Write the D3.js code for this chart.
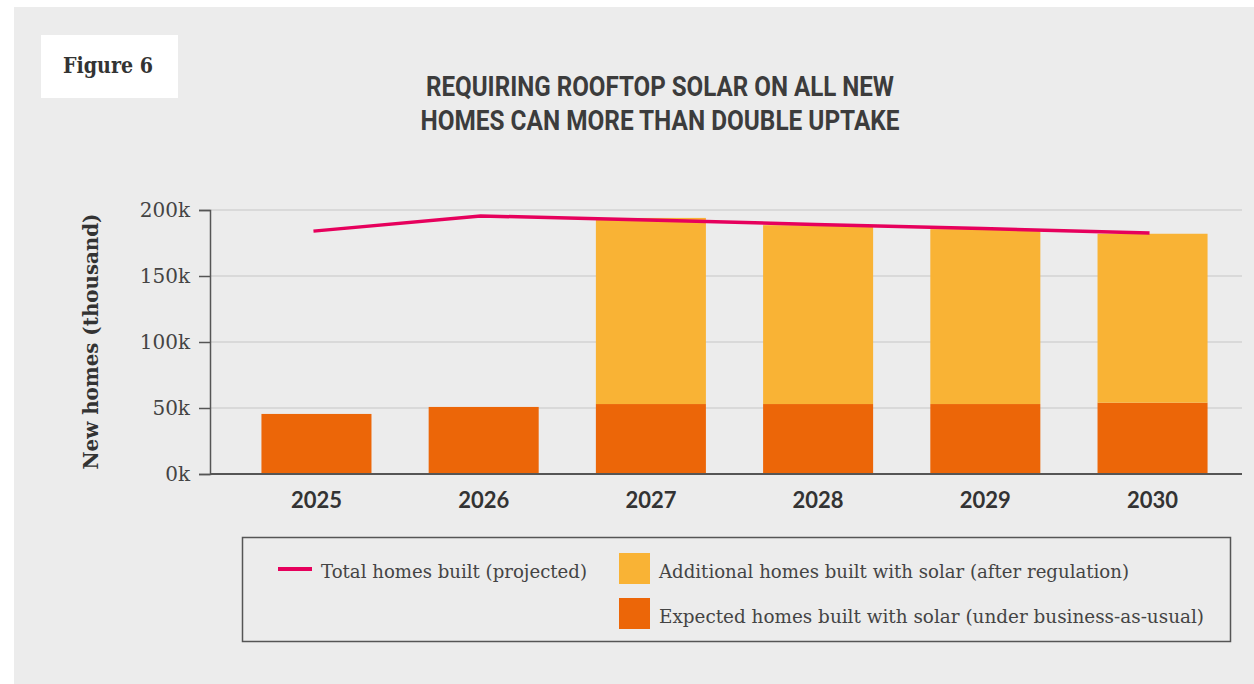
<!DOCTYPE html>
<html>
<head>
<meta charset="utf-8">
<script src="https://cdn.jsdelivr.net/npm/d3@7"></script>
<style>
    body { margin: 0; background: #ffffff; }
    svg { display: block; }
</style>
</head>
<body>
<svg width="1254" height="684"></svg>
<script>
// chart values (thousands of homes)
var years = ["2025", "2026", "2027", "2028", "2029", "2030"];
var expectedSolar = [45.5, 50.8, 53, 53, 53, 54];
var additionalSolar = [0, 0, 141, 135.5, 132.5, 128];
var totalHomes = [184, 195.5, 192.5, 189, 186, 182.5];
var yTicks = [0, 50, 100, 150, 200];

var titleLines = ["REQUIRING ROOFTOP SOLAR ON ALL NEW", "HOMES CAN MORE THAN DOUBLE UPTAKE"];
var legendLabels = {
    total: "Total homes built (projected)",
    additional: "Additional homes built with solar (after regulation)",
    expected: "Expected homes built with solar (under business-as-usual)"
};

var colOrange = "#ec6608";
var colYellow = "#f9b335";
var colPink = "#e6005c";
var serif = "'DejaVu Serif', serif";

var svg = d3.select("svg");

// background panel
svg.append("rect")
    .attr("x", 14).attr("y", 7)
    .attr("width", 1240).attr("height", 677)
    .attr("fill", "#ececec");

// figure tag
svg.append("rect")
    .attr("x", 41).attr("y", 35)
    .attr("width", 137).attr("height", 63)
    .attr("fill", "#ffffff");
svg.append("text")
    .attr("x", 63).attr("y", 73)
    .text("Figure 6")
    .attr("font-family", serif)
    .attr("font-weight", "bold")
    .attr("font-size", "22px")
    .attr("textLength", 90)
    .attr("lengthAdjust", "spacingAndGlyphs")
    .attr("fill", "#333");

// title
var titleWidths = [468, 479];
titleLines.forEach(function(line, i) {
    svg.append("text")
        .attr("x", 660).attr("y", 96 + i * 33.5)
        .attr("text-anchor", "middle")
        .text(line)
        .attr("font-family", "Roboto, sans-serif")
        .attr("font-weight", "bold")
        .attr("font-size", "27px")
        .attr("textLength", titleWidths[i])
        .attr("lengthAdjust", "spacingAndGlyphs")
        .attr("fill", "#3c3c3c");
});

// scales
var x = d3.scaleBand().domain(years).range([228, 1241]).paddingInner(0.342).paddingOuter(0.2);
var y = d3.scaleLinear().domain([0, 200]).range([474, 210]);

// gridlines
svg.append("g")
    .selectAll("line").data(yTicks.slice(1)).enter()
    .append("line")
    .attr("x1", 210).attr("x2", 1242)
    .attr("y1", function(d) { return y(d); })
    .attr("y2", function(d) { return y(d); })
    .attr("stroke", "#d9d9d9")
    .attr("stroke-width", 2);

// bars
var rows = years.map(function(yr, i) {
    return { year: yr, expected: expectedSolar[i], additional: additionalSolar[i], total: totalHomes[i] };
});

svg.append("g")
    .selectAll("rect").data(rows).enter()
    .append("rect")
    .attr("x", function(d) { return x(d.year); })
    .attr("width", x.bandwidth())
    .attr("y", function(d) { return y(d.expected); })
    .attr("height", function(d) { return y(0) - y(d.expected); })
    .attr("fill", colOrange);

svg.append("g")
    .selectAll("rect").data(rows.filter(function(d) { return d.additional > 0; })).enter()
    .append("rect")
    .attr("x", function(d) { return x(d.year); })
    .attr("width", x.bandwidth())
    .attr("y", function(d) { return y(d.expected + d.additional); })
    .attr("height", function(d) { return y(d.expected) - y(d.expected + d.additional); })
    .attr("fill", colYellow);

// total homes line
var line = d3.line()
    .x(function(d) { return x(d.year) + x.bandwidth() / 2 - 3; })
    .y(function(d) { return y(d.total); });
svg.append("path")
    .datum(rows)
    .attr("d", line)
    .attr("fill", "none")
    .attr("stroke", colPink)
    .attr("stroke-width", 3.5);

// y axis
var yAxis = svg.append("g")
    .attr("transform", "translate(210,0)")
    .call(d3.axisLeft(y)
        .tickValues(yTicks)
        .tickSize(11)
        .tickPadding(9)
        .tickFormat(function(d) { return d + "k"; })
    );
yAxis.select(".domain").attr("stroke", "#555").attr("stroke-width", 1.5);
yAxis.selectAll(".tick line").attr("stroke", "#555").attr("stroke-width", 1.5);
yAxis.selectAll("text")
    .attr("font-family", serif)
    .attr("font-size", "20px")
    .attr("fill", "#444");

// x axis
var xAxis = svg.append("g")
    .attr("transform", "translate(0,474)")
    .call(d3.axisBottom(x).tickSize(0).tickPadding(18));
xAxis.select(".domain").remove();
xAxis.append("line")
    .attr("x1", 210).attr("x2", 1242)
    .attr("stroke", "#555").attr("stroke-width", 2);
xAxis.selectAll("text")
    .attr("font-family", "Lato, sans-serif")
    .attr("font-weight", "bold")
    .attr("font-size", "22px")
    .attr("fill", "#333");

// y axis title
svg.append("text")
    .attr("transform", "translate(98,341.5) rotate(-90)")
    .attr("text-anchor", "middle")
    .text("New homes (thousand)")
    .attr("font-family", serif)
    .attr("font-weight", "bold")
    .attr("font-size", "20px")
    .attr("textLength", 256)
    .attr("lengthAdjust", "spacingAndGlyphs")
    .attr("fill", "#333");

// legend
svg.append("rect")
    .attr("x", 242.5).attr("y", 537.5)
    .attr("width", 988).attr("height", 104)
    .attr("fill", "none")
    .attr("stroke", "#555")
    .attr("stroke-width", 1.5);

function legendText(tx, ty, label, len) {
    svg.append("text")
        .attr("x", tx).attr("y", ty)
        .text(label)
        .attr("font-family", serif)
        .attr("font-size", "18px")
        .attr("textLength", len)
        .attr("lengthAdjust", "spacingAndGlyphs")
        .attr("fill", "#444");
}

svg.append("line")
    .attr("x1", 278).attr("x2", 312)
    .attr("y1", 569).attr("y2", 569)
    .attr("stroke", colPink)
    .attr("stroke-width", 4);
legendText(321, 578, legendLabels.total, 266);

svg.append("rect")
    .attr("x", 619).attr("y", 553)
    .attr("width", 31).attr("height", 31)
    .attr("fill", colYellow);
legendText(659, 578, legendLabels.additional, 470);

svg.append("rect")
    .attr("x", 619).attr("y", 598)
    .attr("width", 31).attr("height", 31)
    .attr("fill", colOrange);
legendText(659, 623, legendLabels.expected, 545);
</script>
</body>
</html>
